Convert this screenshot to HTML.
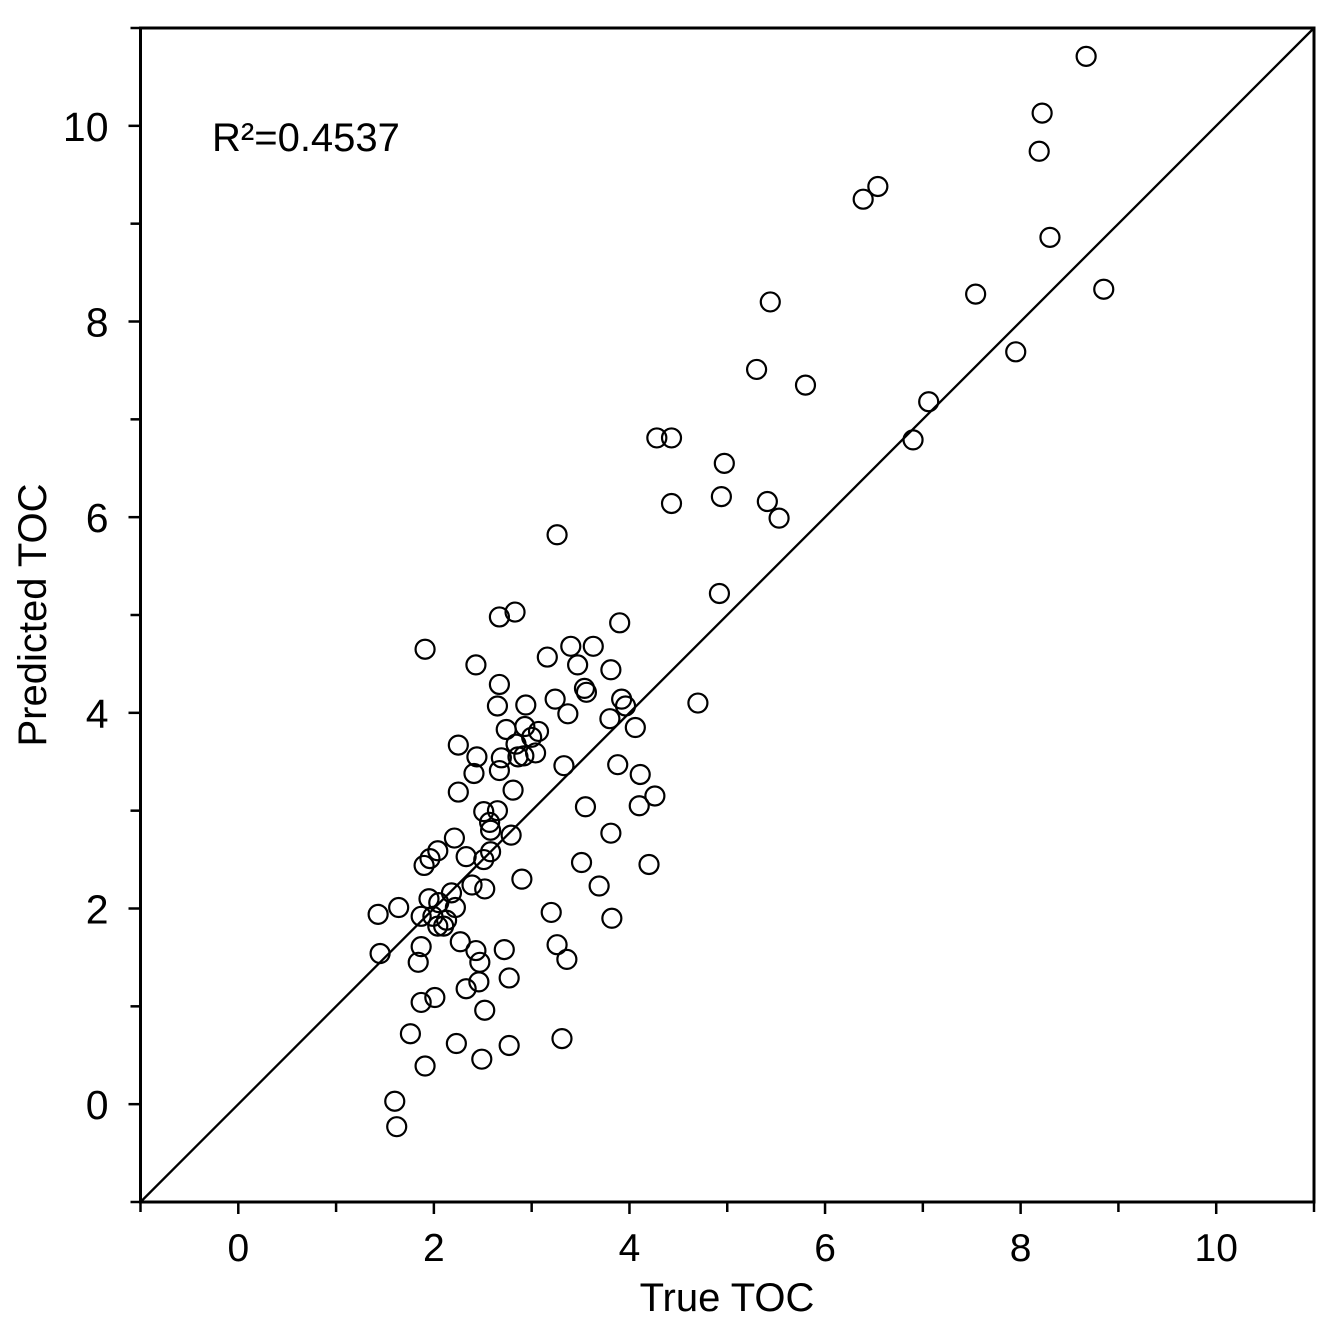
<!DOCTYPE html>
<html><head><meta charset="utf-8"><style>
html,body{margin:0;padding:0;background:#fff;}
svg{display:block;font-family:"Liberation Sans",Arial,sans-serif;}
</style></head><body>
<svg id="chart" width="1337" height="1323" viewBox="0 0 1337 1323">
<g id="plot"></g>
</svg>
<script>
const trueTOC=[8.67,8.22,8.19,6.54,6.39,8.30,8.85,7.54,5.44,7.95,5.30,5.80,7.06,4.28,4.43,6.90,4.97,4.94,4.43,5.41,5.53,3.26,4.92,2.67,2.83,1.91,3.40,3.63,3.90,3.16,3.47,2.43,3.81,2.67,3.54,3.56,3.24,3.92,3.96,2.94,2.65,4.70,3.37,3.80,4.06,2.93,2.74,3.07,3.00,2.84,2.25,2.44,3.04,2.69,2.92,2.86,3.33,3.88,2.67,2.41,4.11,2.81,2.25,4.26,3.55,4.10,2.65,2.51,2.57,2.58,3.81,2.79,2.21,2.58,2.04,1.96,2.33,2.51,3.51,1.90,4.20,2.90,3.69,2.39,2.52,2.18,1.95,2.05,2.22,1.64,1.43,1.87,1.99,3.20,3.82,2.13,2.04,2.10,2.27,3.26,1.87,2.43,2.72,1.45,3.36,2.47,1.84,2.77,2.46,2.33,2.01,1.87,2.52,1.76,3.31,2.23,2.77,2.49,1.91,1.60,1.62];
const predTOC=[10.71,10.13,9.74,9.38,9.25,8.86,8.33,8.28,8.20,7.69,7.51,7.35,7.18,6.81,6.81,6.79,6.55,6.21,6.14,6.16,5.99,5.82,5.22,4.98,5.03,4.65,4.68,4.68,4.92,4.57,4.49,4.49,4.44,4.29,4.25,4.21,4.14,4.14,4.07,4.08,4.07,4.10,3.99,3.94,3.85,3.86,3.83,3.81,3.75,3.68,3.67,3.55,3.59,3.54,3.56,3.55,3.46,3.47,3.41,3.38,3.37,3.21,3.19,3.15,3.04,3.05,3.00,2.99,2.88,2.80,2.77,2.75,2.72,2.58,2.59,2.51,2.53,2.50,2.47,2.44,2.45,2.30,2.23,2.24,2.20,2.16,2.10,2.06,2.01,2.01,1.94,1.92,1.92,1.96,1.90,1.88,1.82,1.82,1.66,1.63,1.61,1.57,1.58,1.54,1.48,1.45,1.45,1.29,1.25,1.18,1.09,1.04,0.96,0.72,0.67,0.62,0.60,0.46,0.39,0.03,-0.23];
const xTicks=[0,2,4,6,8,10];
const yTicks=[0,2,4,6,8,10];
const minorTicks=[-1,1,3,5,7,9,11];

const X0=140.5,X1=1314,Y0=1202,Y1=28,DMIN=-1,DMAX=11;
function sx(v){return X0+(v-DMIN)/(DMAX-DMIN)*(X1-X0);}
function sy(v){return Y0-(v-DMIN)/(DMAX-DMIN)*(Y0-Y1);}
const NS='http://www.w3.org/2000/svg';
const g=document.getElementById('plot');
function mk(t,a){const e=document.createElementNS(NS,t);for(const k in a)e.setAttribute(k,a[k]);g.appendChild(e);return e;}

let e;
e=mk('rect',{x:X0,y:Y1,width:X1-X0,height:Y0-Y1,fill:'none',stroke:'#000','stroke-width':3});


e=mk('line',{x1:sx(-1),y1:sy(-1),x2:sx(11),y2:sy(11),stroke:'#000','stroke-width':2.3});



xTicks.forEach(v=>{
  e=mk('line',{x1:sx(v),y1:Y0,x2:sx(v),y2:Y0+12,stroke:'#000','stroke-width':2.5});
  
  
  e=mk('text',{x:sx(v),y:1261,'font-size':39,'text-anchor':'middle'});e.textContent=v;
  
  
});
yTicks.forEach(v=>{
  e=mk('line',{x1:X0-12,y1:sy(v),x2:X0,y2:sy(v),stroke:'#000','stroke-width':2.5});
  
  
  e=mk('text',{x:X0-32,y:sy(v)+15,'font-size':41,'text-anchor':'end'});e.textContent=v;
  
  
});
minorTicks.forEach(v=>{
  e=mk('line',{x1:sx(v),y1:Y0,x2:sx(v),y2:Y0+10,stroke:'#000','stroke-width':2.5});
  
  
  e=mk('line',{x1:X0-10,y1:sy(v),x2:X0,y2:sy(v),stroke:'#000','stroke-width':2.5});
  
  
});
trueTOC.forEach((v,i)=>{
  e=mk('circle',{cx:sx(v),cy:sy(predTOC[i]),r:9.5,fill:'none',stroke:'#000','stroke-width':2.2});
  
  
});
e=mk('text',{x:727,y:1311,'font-size':40,'text-anchor':'middle'});e.textContent='True TOC';


e=mk('text',{x:0,y:0,'font-size':40,'text-anchor':'middle',transform:'translate(46,615) rotate(-90)'});e.textContent='Predicted TOC';


e=mk('text',{x:212,y:151,'font-size':40});e.textContent='R²=0.4537';


</script>
</body></html>
